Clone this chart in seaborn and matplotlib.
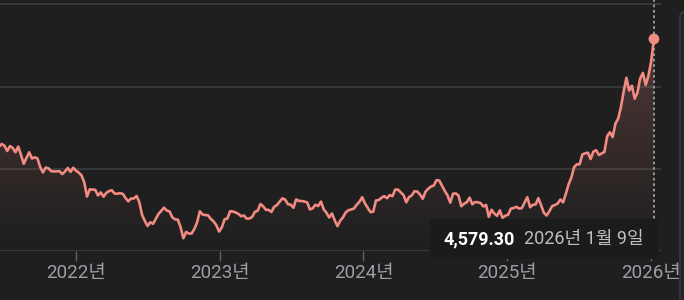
import numpy as np
import pandas as pd
import matplotlib
matplotlib.use("Agg")
import matplotlib.pyplot as plt
import matplotlib.dates as mdates
from matplotlib.colors import to_rgb
from matplotlib.patches import FancyBboxPatch
import seaborn as sns

# ---------------- data (weekly closes) ----------------
start_date = "2021-06-18"
vals_2021 = [3267, 3302, 3281, 3217, 3276, 3254, 3202, 3270, 3171, 3060,
             3133, 3201, 3125, 3140, 3125, 3019, 2956, 3015, 3006, 2970,
             2969, 2968, 2971, 2936, 2968, 3010, 2963, 3012, 2977]
vals_2022 = [2954, 2921, 2834, 2663, 2750, 2747, 2744, 2676, 2713, 2661,
             2707, 2729, 2739, 2700, 2696, 2704, 2695, 2644, 2604, 2639,
             2638, 2670, 2595, 2440, 2366, 2305, 2350, 2330, 2393, 2452,
             2490, 2527, 2492, 2481, 2409, 2384, 2382, 2290, 2155, 2232,
             2212, 2213, 2268, 2348, 2483, 2444, 2437, 2434, 2389, 2360,
             2313, 2236]
vals_2023 = [2289, 2386, 2395, 2484, 2480, 2469, 2451, 2423, 2432, 2394,
             2395, 2414, 2476, 2490, 2571, 2544, 2501, 2500, 2475, 2537,
             2559, 2601, 2641, 2625, 2570, 2564, 2526, 2628, 2609, 2608,
             2602, 2591, 2505, 2519, 2563, 2547, 2601, 2508, 2465, 2408,
             2456, 2375, 2302, 2368, 2409, 2469, 2496, 2505, 2517, 2563,
             2599, 2655]
vals_2024 = [2578, 2525, 2473, 2478, 2615, 2620, 2648, 2667, 2642, 2680,
             2667, 2748, 2747, 2714, 2681, 2592, 2656, 2676, 2727, 2724,
             2687, 2636, 2722, 2758, 2784, 2797, 2862, 2857, 2795, 2731,
             2676, 2588, 2697, 2701, 2674, 2544, 2575, 2593, 2649, 2569,
             2596, 2593, 2583, 2542, 2561, 2416, 2501, 2455, 2428, 2494,
             2404, 2429]
vals_2025 = [2441, 2515, 2523, 2537, 2517, 2521, 2591, 2654, 2532, 2563,
             2566, 2643, 2557, 2465, 2432, 2483, 2546, 2559, 2577, 2626,
             2593, 2697, 2812, 2895, 3021, 3055, 3054, 3175, 3188, 3196,
             3119, 3210, 3225, 3168, 3186, 3205, 3396, 3445, 3386, 3549,
             3610, 3749, 3941, 4107, 3953, 4011, 3853, 3926, 4100, 4167,
             4021, 4130]
vals_2026 = [4309, 4579.30]

tick_years = [2022, 2023, 2024, 2025, 2026]
tick_labels = [f"{y}년" for y in tick_years]
grid_values = [2000, 3000, 4000, 5000]

values = vals_2021 + vals_2022 + vals_2023 + vals_2024 + vals_2025 + vals_2026
dates = pd.date_range(start_date, periods=len(values), freq="7D")
df = pd.DataFrame({"date": dates, "value": values})

# ---------------- style ----------------
BG = "#1f1f1f"
LINE = "#f28b82"
GRID = "#3e4043"
TICKC = "#5f6368"
LABELC = "#9aa0a6"

sns.set_theme(style="dark")
plt.rcParams["font.family"] = ["Roboto", "Noto Sans CJK KR", "DejaVu Sans"]

W, H = 684, 300
fig = plt.figure(figsize=(W / 100, H / 100), dpi=100, facecolor=BG)
ax_right_px = 661
ax_bottom_px = 251
ax = fig.add_axes([0, 1 - ax_bottom_px / H, ax_right_px / W, ax_bottom_px / H])
ax.set_facecolor(BG)

px_per_day = 143.5 / 365.0
px_per_unit = 0.0822
ref = pd.Timestamp("2022-01-01")
x_left = ref - pd.Timedelta(days=76.4 / px_per_day)
x_right = ref + pd.Timedelta(days=(ax_right_px - 76.4) / px_per_day)
y_low = grid_values[0]
y_high = y_low + ax_bottom_px / px_per_unit

# gradient fill under the line
x0n, x1n = mdates.date2num(x_left), mdates.date2num(x_right)
grad = np.zeros((256, 1, 4))
grad[:, 0, :3] = to_rgb(LINE)
grad[:, 0, 3] = np.linspace(0.32, 0.0, 256) ** 1.1
im = ax.imshow(grad, extent=[x0n, x1n, y_low, y_high], aspect="auto",
               origin="upper", zorder=2, interpolation="bicubic")
poly = ax.fill_between(df["date"], df["value"], y_low, facecolor="none",
                       edgecolor="none")
im.set_clip_path(poly.get_paths()[0], ax.transData)

sns.lineplot(data=df, x="date", y="value", ax=ax, color=LINE, lw=1.9,
             zorder=4)

last_date = df["date"].iloc[-1]
last_val = df["value"].iloc[-1]
ax.axvline(last_date, color="#9aa0a6", ls=(0, (1.5, 1.5)), lw=1.3, zorder=3)
ax.scatter([last_date], [last_val], s=60, color=LINE, zorder=6,
           edgecolors="none")

ax.set_xlim(x_left, x_right)
ax.set_ylim(y_low, y_high)
ax.set_yticks(grid_values)
ax.yaxis.grid(True, color=GRID, lw=1.1)
ax.xaxis.grid(False)
ax.tick_params(axis="y", left=False, labelleft=False)
ax.set_xticks([pd.Timestamp(f"{y}-01-01") for y in tick_years])
ax.set_xticklabels(tick_labels)
ax.tick_params(axis="x", bottom=True, length=7.5, width=1, color=TICKC,
               labelcolor=LABELC, labelsize=13.5, pad=2)
for s in ax.spines.values():
    s.set_visible(False)
ax.set_xlabel("")
ax.set_ylabel("")

# tooltip
tip = FancyBboxPatch((430 / W, 1 - 259 / H), 228 / W, 40 / H,
                     boxstyle="round,pad=0,rounding_size=0.008",
                     transform=fig.transFigure, facecolor="#1b1b1b",
                     edgecolor="none", zorder=5)
fig.patches.append(tip)
fig.text(443 / W, 1 - 239 / H, f"{last_val:,.2f}", color="white",
         fontsize=13, fontweight="bold", va="center", ha="left", zorder=6)
fig.text(524 / W, 1 - 239 / H,
         f"{last_date.year}년 {last_date.month}월 {last_date.day}일",
         color="#bcbfc3", fontsize=13, va="center", ha="left", zorder=6)

# side panel edge on the right
side = FancyBboxPatch((680 / W, -0.2), 30 / W, 1.2 - 10 / H,
                      boxstyle="round,pad=0,rounding_size=0.02",
                      transform=fig.transFigure, facecolor="#242528",
                      edgecolor="#3a3c40", lw=1, zorder=5)
fig.patches.append(side)

fig.savefig("out.png", dpi=100, facecolor=BG)
